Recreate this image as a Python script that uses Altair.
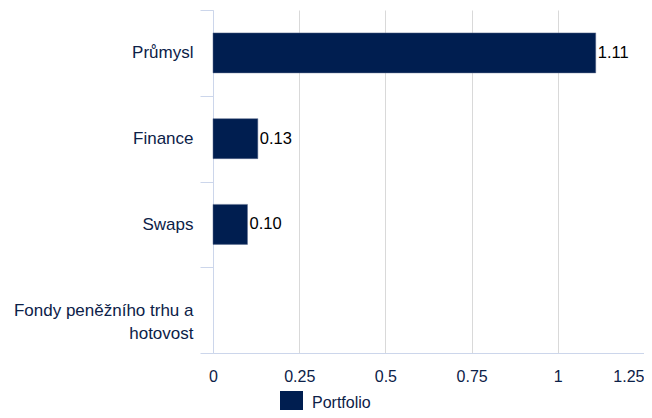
import altair as alt
import pandas as pd

categories = ["Průmysl", "Finance", "Swaps", "Fondy peněžního trhu a|hotovost"]
values = [1.11, 0.13, 0.10, None]
labels = ["1.11", "0.13", "0.10", ""]
series = ["Portfolio", "Portfolio", "Portfolio", "Portfolio"]
x_ticks = [0, 0.25, 0.5, 0.75, 1, 1.25]

df = pd.DataFrame({"cat": categories, "value": values, "label": labels, "series": series})

FONT = "Liberation Sans"
NAVY = "#0c2148"
BAR = "#001e50"

y_enc = alt.Y(
    "cat:N",
    sort=categories,
    scale=alt.Scale(domain=categories, paddingInner=0, paddingOuter=0),
    axis=alt.Axis(
        title=None,
        labelExpr="split(datum.label, '|')",
        labelFont=FONT,
        labelFontSize=17,
        labelColor=NAVY,
        labelPadding=7,
        labelLineHeight=23,
        tickBand="extent",
        tickSize=13,
        tickColor="#ccd6eb",
        domainColor="#ccd6eb",
        grid=False,
        labelLimit=300,
    ),
)

x_enc = alt.X(
    "value:Q",
    scale=alt.Scale(domain=[0, 1.25], nice=False),
    axis=alt.Axis(
        title=None,
        values=x_ticks,
        labelExpr="format(datum.value, '')",
        labelFont=FONT,
        labelFontSize=16,
        labelColor=NAVY,
        labelPadding=15,
        labelAlign={"expr": "datum.value == 1.25 ? 'right' : 'center'"},
        ticks=False,
        grid=True,
        gridColor="#d9d9d9",
        domainColor="#ccd6eb",
        labelFlush=False,
    ),
)

bars = alt.Chart(df).transform_filter("isValid(datum.value)").mark_bar(size=40, stroke="#5a6a8c", strokeWidth=0.5).encode(
    x=x_enc,
    y=y_enc,
    color=alt.Color(
        "series:N",
        scale=alt.Scale(domain=["Portfolio"], range=[BAR]),
        legend=alt.Legend(
            title=None,
            orient="none",
            legendX=67,
            legendY=381,
            symbolType="square",
            symbolSize=529,
            symbolStrokeWidth=0,
            labelFont=FONT,
            labelFontSize=16,
            labelColor=NAVY,
            labelOffset=9,
        ),
    ),
)

text = alt.Chart(df).transform_filter("isValid(datum.value)").mark_text(
    align="left", baseline="middle", dx=2, font=FONT, fontSize=16.5, color="#000000"
).encode(
    x="value:Q",
    y=alt.Y("cat:N", sort=categories),
    text="label:N",
)

chart = (
    alt.layer(bars, text)
    .properties(
        width=431,
        height=343,
        padding={"left": 205, "top": 2, "right": 0, "bottom": 57},
        autosize=alt.AutoSizeParams(type="none"),
    )
    .configure_view(stroke=None)
)

chart.save("out.html", embed_options={"renderer": "svg", "actions": False})
